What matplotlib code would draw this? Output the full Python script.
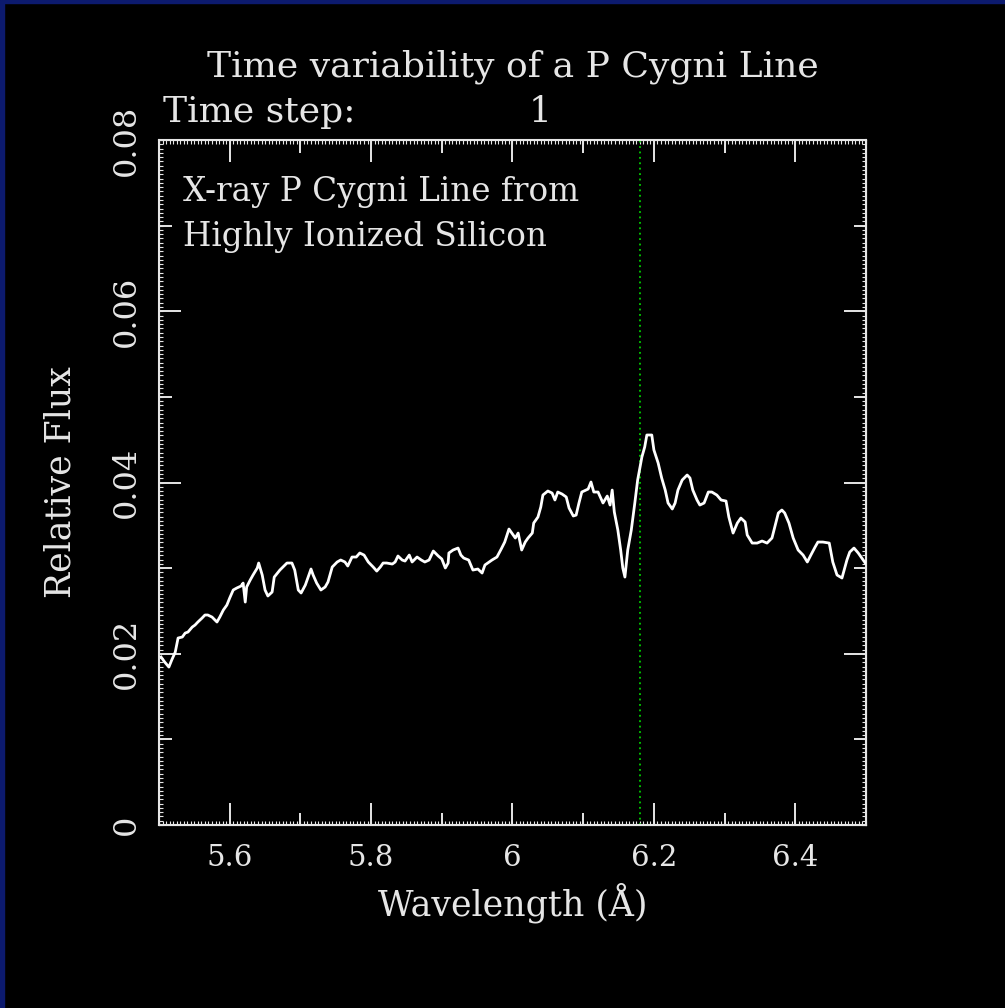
import matplotlib.pyplot as plt
import numpy as np
from matplotlib.patches import Rectangle
from matplotlib.ticker import MultipleLocator, FuncFormatter

# Si XIV spectrum, time step 1
wavelength = [
    5.503, 5.508, 5.514, 5.518, 5.523, 5.527, 5.533, 5.537, 5.541, 5.547,
    5.551, 5.555, 5.561, 5.565, 5.569, 5.575, 5.582, 5.586, 5.591, 5.596,
    5.600, 5.605, 5.610, 5.616, 5.619, 5.622, 5.624, 5.629, 5.633, 5.639,
    5.641, 5.646, 5.650, 5.654, 5.660, 5.663, 5.671, 5.681, 5.688, 5.692,
    5.697, 5.701, 5.707, 5.715, 5.718, 5.723, 5.729, 5.735, 5.739, 5.745,
    5.752, 5.757, 5.763, 5.767, 5.773, 5.779, 5.784, 5.790, 5.796, 5.803,
    5.808, 5.813, 5.817, 5.822, 5.830, 5.834, 5.838, 5.844, 5.848, 5.854,
    5.858, 5.865, 5.871, 5.876, 5.882, 5.888, 5.895, 5.900, 5.905, 5.909,
    5.910, 5.916, 5.923, 5.927, 5.931, 5.938, 5.944, 5.951, 5.957, 5.961,
    5.965, 5.971, 5.978, 5.984, 5.989, 5.995, 5.999, 6.004, 6.008, 6.013,
    6.018, 6.022, 6.028, 6.030, 6.036, 6.040, 6.043, 6.050, 6.056, 6.060,
    6.064, 6.070, 6.076, 6.080, 6.086, 6.090, 6.094, 6.098, 6.107, 6.111,
    6.115, 6.121, 6.128, 6.134, 6.138, 6.141, 6.144, 6.149, 6.153, 6.156,
    6.159, 6.163, 6.168, 6.173, 6.177, 6.183, 6.187, 6.190, 6.197, 6.200,
    6.206, 6.211, 6.216, 6.220, 6.226, 6.230, 6.234, 6.240, 6.247, 6.251,
    6.255, 6.261, 6.265, 6.271, 6.277, 6.282, 6.289, 6.295, 6.302, 6.306,
    6.312, 6.318, 6.323, 6.329, 6.332, 6.339, 6.346, 6.353, 6.360, 6.367,
    6.371, 6.376, 6.381, 6.385, 6.391, 6.397, 6.404, 6.411, 6.417, 6.422,
    6.428, 6.432, 6.439, 6.448, 6.453, 6.459, 6.466, 6.473, 6.477, 6.483,
    6.489, 6.496, 6.499,
]
flux = [
    0.01962, 0.01904, 0.01845, 0.01927, 0.02020, 0.02184, 0.02196, 0.02242, 0.02254, 0.02312,
    0.02336, 0.02371, 0.02418, 0.02453, 0.02453, 0.02429, 0.02371, 0.02429, 0.02511, 0.02569,
    0.02651, 0.02745, 0.02768, 0.02791, 0.02826, 0.02604, 0.02780, 0.02861, 0.02920, 0.03002,
    0.03060, 0.02920, 0.02745, 0.02675, 0.02721, 0.02896, 0.02978, 0.03060, 0.03060, 0.02978,
    0.02745, 0.02710, 0.02803, 0.02990, 0.02920, 0.02826, 0.02745, 0.02780, 0.02838, 0.03013,
    0.03072, 0.03095, 0.03072, 0.03025, 0.03130, 0.03130, 0.03177, 0.03153, 0.03072, 0.03013,
    0.02966, 0.03013, 0.03060, 0.03060, 0.03048, 0.03072, 0.03142, 0.03095, 0.03083, 0.03153,
    0.03072, 0.03130, 0.03095, 0.03072, 0.03095, 0.03200, 0.03142, 0.03107, 0.03002, 0.03060,
    0.03177, 0.03212, 0.03235, 0.03153, 0.03118, 0.03095, 0.02978, 0.02990, 0.02943, 0.03037,
    0.03060, 0.03095, 0.03130, 0.03223, 0.03305, 0.03457, 0.03410, 0.03352, 0.03410, 0.03212,
    0.03305, 0.03352, 0.03410, 0.03527, 0.03597, 0.03714, 0.03854, 0.03901, 0.03877, 0.03796,
    0.03889, 0.03866, 0.03831, 0.03702, 0.03609, 0.03620, 0.03761, 0.03889, 0.03924, 0.04006,
    0.03889, 0.03889, 0.03761, 0.03842, 0.03737, 0.03912, 0.03656, 0.03445, 0.03212, 0.03002,
    0.02896, 0.03212, 0.03445, 0.03761, 0.04029, 0.04298, 0.04415, 0.04555, 0.04555, 0.04380,
    0.04228, 0.04053, 0.03912, 0.03761, 0.03691, 0.03761, 0.03912, 0.04029, 0.04088, 0.04053,
    0.03912, 0.03796, 0.03737, 0.03761, 0.03889, 0.03889, 0.03854, 0.03796, 0.03784, 0.03597,
    0.03410, 0.03527, 0.03585, 0.03539, 0.03387, 0.03293, 0.03293, 0.03317, 0.03293, 0.03352,
    0.03480, 0.03644, 0.03679, 0.03644, 0.03527, 0.03352, 0.03212, 0.03153, 0.03072, 0.03153,
    0.03247, 0.03305, 0.03305, 0.03293, 0.03072, 0.02920, 0.02885, 0.03095, 0.03188, 0.03235,
    0.03177, 0.03095, 0.03060,
]
rest_wavelength = 6.18
time_step = 1

fg = '#e6e6e6'
plt.rcParams['font.family'] = ['DejaVu Serif']

fig = plt.figure(figsize=(10.05, 10.08), dpi=100, facecolor='black')
# navy frame strips along top and left edge
fig.add_artist(Rectangle((0, 1 - 3 / 1008), 1, 3 / 1008, transform=fig.transFigure,
                         color='#0c1a6e', zorder=10))
fig.add_artist(Rectangle((0, 0), 4 / 1005, 1, transform=fig.transFigure,
                         color='#0c1a6e', zorder=10))

ax = fig.add_axes([0.1582, 0.1815, 0.7035, 0.6796], facecolor='black')
ax.plot(wavelength, flux, color='white', lw=2.0, zorder=3)
ax.axvline(rest_wavelength, color='#00d000', ls=(0, (1, 2)), lw=1.3, zorder=2)

ax.set_xlim(5.5, 6.5)
ax.set_ylim(0, 0.08)

for sp in ax.spines.values():
    sp.set_color(fg)
    sp.set_linewidth(1.5)

fmt = FuncFormatter(lambda v, pos: '%g' % round(v, 3))
ax.xaxis.set_major_locator(MultipleLocator(0.2))
ax.xaxis.set_minor_locator(MultipleLocator(0.1))
ax.yaxis.set_major_locator(MultipleLocator(0.02))
ax.yaxis.set_minor_locator(MultipleLocator(0.01))
ax.xaxis.set_major_formatter(fmt)
ax.yaxis.set_major_formatter(fmt)

ax.tick_params(which='major', direction='in', length=16, width=1.4, color=fg,
               top=True, right=True, labelcolor=fg)
ax.tick_params(which='minor', direction='in', length=9, width=1.4, color=fg,
               top=True, right=True)
ax.tick_params(axis='x', which='major', pad=14, labelsize=21)
ax.tick_params(axis='y', which='major', pad=12, labelsize=23)
for lab in ax.get_yticklabels():
    lab.set_rotation(90)
    lab.set_va('center')
    lab.set_ha('right')

# fine ruler ticks along every edge
for side in ('bottom', 'top'):
    sec = ax.secondary_xaxis(side)
    sec.set_xticks(np.arange(5.5, 6.5001, 0.005))
    sec.tick_params(direction='in', length=3, width=0.8, color=fg,
                    labelbottom=False, labeltop=False)
    sec.spines[side].set_color(fg)
for side in ('left', 'right'):
    sec = ax.secondary_yaxis(side)
    sec.set_yticks(np.arange(0, 0.08001, 0.0005))
    sec.tick_params(direction='in', length=3, width=0.8, color=fg,
                    labelleft=False, labelright=False)
    sec.spines[side].set_color(fg)

ax.set_xlabel('Wavelength (Å)', fontsize=25, color=fg)
ax.xaxis.label.set_va('center')
ax.xaxis.set_label_coords(0.5, -0.114)
ax.set_ylabel('Relative Flux', fontsize=25, color=fg)
ax.yaxis.label.set_va('center')
ax.yaxis.set_label_coords(-0.140, 0.5)

ax.text(0.5, 1.1066, 'Time variability of a P Cygni Line', transform=ax.transAxes,
        ha='center', va='center', fontsize=26, color=fg)
ax.text(0.006, 1.041, 'Time step:', transform=ax.transAxes,
        ha='left', va='center', fontsize=26, color=fg)
ax.text(0.539, 1.041, str(time_step), transform=ax.transAxes,
        ha='center', va='center', fontsize=26, color=fg)
ax.text(0.034, 0.924, 'X-ray P Cygni Line from', transform=ax.transAxes,
        ha='left', va='center', fontsize=23.5, color=fg)
ax.text(0.034, 0.858, 'Highly Ionized Silicon', transform=ax.transAxes,
        ha='left', va='center', fontsize=23.5, color=fg)

fig.savefig('out.png', dpi=100, facecolor='black')
